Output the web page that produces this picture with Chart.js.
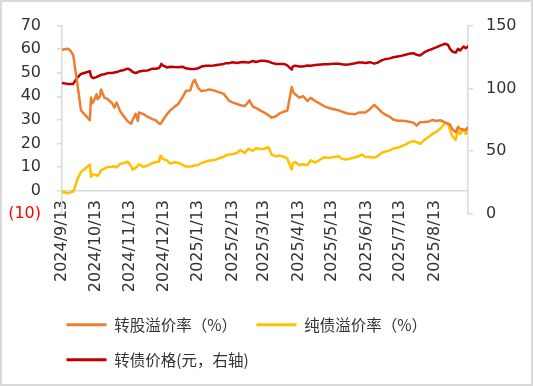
<!DOCTYPE html>
<html>
<head>
<meta charset="utf-8">
<script src="https://cdn.jsdelivr.net/npm/chart.js@4.4.1/dist/chart.umd.min.js"></script>
<style>
html,body{margin:0;padding:0;background:#fff;}
canvas{display:block;}
</style>
</head>
<body>
<canvas id="c" width="533" height="386"></canvas>
<script>
// ---- data ----
const dates = [
 '2024-09-13','2024-09-18','2024-09-20','2024-09-23','2024-09-24','2024-09-25','2024-09-26','2024-09-27','2024-09-30',
 '2024-10-08','2024-10-09','2024-10-10','2024-10-11','2024-10-14','2024-10-15','2024-10-17','2024-10-18','2024-10-21',
 '2024-10-24','2024-10-28','2024-10-30','2024-11-01','2024-11-04','2024-11-07','2024-11-11','2024-11-14','2024-11-15',
 '2024-11-18','2024-11-20','2024-11-21','2024-11-25','2024-11-29','2024-12-03','2024-12-06','2024-12-09','2024-12-10',
 '2024-12-11','2024-12-12','2024-12-16','2024-12-19','2024-12-23','2024-12-26','2024-12-30','2025-01-02','2025-01-06',
 '2025-01-08','2025-01-09','2025-01-10','2025-01-13','2025-01-16','2025-01-20','2025-01-23','2025-01-27','2025-02-05',
 '2025-02-07','2025-02-10','2025-02-13','2025-02-17','2025-02-20','2025-02-24','2025-02-25','2025-02-27','2025-02-28',
 '2025-03-03','2025-03-06','2025-03-10','2025-03-13','2025-03-17','2025-03-20','2025-03-24','2025-03-27','2025-03-31',
 '2025-04-03','2025-04-07','2025-04-08','2025-04-10','2025-04-14','2025-04-17','2025-04-21','2025-04-24','2025-04-28',
 '2025-05-06','2025-05-09','2025-05-12','2025-05-15','2025-05-19','2025-05-22','2025-05-26','2025-05-29','2025-06-03',
 '2025-06-06','2025-06-09','2025-06-12','2025-06-16','2025-06-20','2025-06-23','2025-06-27','2025-06-30','2025-07-04',
 '2025-07-07','2025-07-11','2025-07-14','2025-07-18','2025-07-21','2025-07-25','2025-07-28','2025-07-31','2025-08-04',
 '2025-08-08','2025-08-11','2025-08-15','2025-08-18','2025-08-21','2025-08-22','2025-08-25','2025-08-27','2025-08-29',
 '2025-09-01','2025-09-03','2025-09-05','2025-09-08','2025-09-10','2025-09-12'
];
// 转股溢价率（%） left axis
const convPremium = [
 59.7,60.2,59.7,57.5,54.5,51.0,48.0,44.5,34.0,
 29.8,39.5,37.0,37.5,40.8,38.7,40.0,42.9,39.4,
 38.8,37.0,35.2,37.3,33.8,31.7,29.3,28.3,29.6,
 32.5,29.6,33.1,32.4,31.2,30.3,29.8,28.5,28.2,
 28.6,29.5,32.3,34.0,35.6,36.6,39.5,42.2,42.5,
 45.5,46.5,47.0,43.6,42.2,42.5,42.9,42.5,41.0,
 39.8,38.0,37.4,36.7,36.2,35.9,36.4,37.5,38.3,
 35.7,35.0,33.9,33.2,32.0,30.9,31.5,32.7,33.5,
 33.8,43.9,42.0,40.8,39.4,40.1,38.0,39.3,38.0,
 35.8,35.2,34.8,34.5,34.0,33.5,32.8,32.6,32.4,
 33.1,33.1,33.1,34.5,36.3,35.0,33.1,32.2,31.2,
 30.1,29.6,29.6,29.5,29.2,28.8,27.5,29.0,29.1,
 29.3,29.9,29.5,29.8,29.2,29.0,28.3,27.9,26.0,
 24.7,27.0,26.1,25.8,25.7,26.8
];
// 纯债溢价率（%） left axis
const bondPremium = [
 -0.5,-1.2,-0.9,-0.5,0.5,2.0,3.5,5.0,7.8,
 11.0,5.8,6.5,6.9,6.4,6.2,7.5,8.6,9.3,
 10.0,10.1,10.3,9.8,11.2,11.6,12.2,10.3,8.9,
 9.5,10.5,11.1,10.0,10.6,11.6,12.1,12.2,14.5,
 14.6,13.5,12.8,11.4,12.0,11.8,10.9,10.2,10.2,
 10.3,10.5,10.6,10.8,11.6,12.3,12.7,12.8,14.3,
 15.0,15.3,15.5,15.9,17.2,15.8,16.5,17.7,17.5,
 16.8,17.9,17.6,17.6,18.4,15.2,14.5,14.8,14.3,
 13.5,8.9,11.5,12.1,10.7,11.1,10.7,12.8,11.8,
 14.1,13.9,14.0,14.2,14.5,13.5,13.1,13.5,14.1,
 14.5,15.3,14.2,14.2,13.9,14.6,16.1,16.5,17.0,
 17.8,18.1,18.7,19.5,20.3,21.0,20.5,19.8,21.5,
 22.8,24.0,25.0,26.2,27.8,28.5,28.6,25.4,23.0,
 21.5,25.4,24.0,26.1,24.0,25.7
];
// 转债价格(元，右轴) right axis
const cbPrice = [
 104.3,103.6,103.5,103.6,105.0,106.3,107.5,108.8,111.5,
 113.6,109.6,108.8,108.2,109.0,109.6,110.3,110.9,111.3,
 112.2,112.3,112.7,113.0,114.0,114.5,115.8,114.3,113.2,
 112.3,112.8,113.5,114.1,114.3,115.7,115.7,116.2,117.5,
 119.5,118.5,116.7,117.3,117.0,116.9,117.3,116.0,115.5,
 115.4,115.5,115.5,116.0,117.4,118.1,118.1,118.2,119.5,
 120.1,120.1,120.8,120.3,120.8,121.0,120.8,120.7,120.7,
 121.8,121.0,122.0,122.0,121.5,120.3,119.4,119.5,119.5,
 118.3,114.9,117.5,118.1,117.5,117.5,118.3,118.1,118.7,
 119.3,119.3,119.5,119.7,119.7,119.3,118.9,119.2,120.0,
 120.7,120.7,120.2,120.9,119.7,120.5,122.5,123.3,123.9,
 124.8,125.4,125.9,126.8,127.5,128.0,126.8,126.2,128.8,
 130.5,131.4,132.8,134.0,135.0,135.5,134.8,131.3,129.4,
 128.5,131.5,130.2,133.4,132.0,133.4
];
const tickLabels = ['2024/9/13','2024/10/13','2024/11/13','2024/12/13','2025/1/13','2025/2/13',
                    '2025/3/13','2025/4/13','2025/5/13','2025/6/13','2025/7/13','2025/8/13'];
const seriesNames = ['转股溢价率（%）','纯债溢价率（%）','转债价格(元，右轴)'];
const startDate = '2024-09-13';
const endDate = '2025-09-12';

// ---- date -> day index for the linear (date) axis ----
function dayIndex(s){
  const p = s.split(/[-\/]/).map(Number);
  const q = startDate.split('-').map(Number);
  return Math.round((Date.UTC(p[0],p[1]-1,p[2]) - Date.UTC(q[0],q[1]-1,q[2])) / 86400000);
}
const xs = dates.map(dayIndex);
const tickVals = tickLabels.map(dayIndex);
const toPts = arr => xs.map((x,i)=>({x:x, y:arr[i]}));

const AXIS_GRAY = '#d9d9d9';
const TXT = '#333333';
const numFont = {family:'DejaVu Sans', size:16};

const framePlugin = {
  id:'frame',
  beforeDraw(c){ const g=c.ctx; g.save(); g.fillStyle='#fff'; g.fillRect(0,0,c.width,c.height); g.restore(); },
  afterDraw(c){ const g=c.ctx; g.save(); g.strokeStyle=AXIS_GRAY; g.lineWidth=2; g.strokeRect(1,1,c.width-2,c.height-2); g.restore(); }
};
// indent the legend block like the reference (rows start under the plot)
const legendIndent = {
  id:'legendIndent',
  afterLayout(c){ if (c.legend) { c.legend.left = 47; } }
};

const lineDs = (i, arr, color, axis) => ({
  label: seriesNames[i], data: toPts(arr), borderColor: color, backgroundColor: color,
  borderWidth: 2.5, pointRadius: 0, tension: 0, yAxisID: axis, xAxisID: 'x',
  borderJoinStyle:'round', borderCapStyle:'round'
});

new Chart(document.getElementById('c'), {
  type: 'line',
  data: { datasets: [
    lineDs(0, convPremium, '#ED7D31', 'y'),
    lineDs(1, bondPremium, '#FFC000', 'y'),
    lineDs(2, cbPrice, '#C00000', 'y2')
  ]},
  plugins: [framePlugin, legendIndent],
  options: {
    responsive:false, animation:false, devicePixelRatio:1,
    layout:{ padding:{ left:0, right:0, top:24, bottom:8.5 } },
    plugins:{
      tooltip:{enabled:false},
      legend:{
        position:'bottom', align:'start',
        labels:{
          boxWidth:40, boxHeight:3, padding:19.5, color:TXT,
          font:{family:"'Noto Sans CJK SC'", size:15.5},
          generateLabels(chart){
            const items = Chart.defaults.plugins.legend.labels.generateLabels(chart);
            items.forEach(it=>{ it.lineWidth = 0; });
            return items;
          }
        }
      }
    },
    scales:{
      x:{
        type:'linear', bounds:'data', min:dayIndex(startDate), max:dayIndex(endDate),
        position:{ y: 0 },            // category axis crosses the left axis at 0
        grid:{display:false, drawTicks:false},
        border:{display:true, color:AXIS_GRAY, width:1.5},
        afterBuildTicks(s){ s.ticks = tickVals.map(v=>({value:v})); },
        ticks:{
          autoSkip:false, minRotation:90, maxRotation:90, padding:9.5, color:TXT, font:numFont,
          callback(v){ const i = tickVals.indexOf(v); return i>=0 ? tickLabels[i] : ''; }
        }
      },
      // reserves the room under the plot that the rotated date labels use
      xRoom:{
        type:'linear', axis:'x', position:'bottom', display:true,
        grid:{display:false, drawTicks:false}, border:{display:false}, ticks:{display:false},
        afterFit(s){ s.height = 83.5; }
      },
      y:{
        position:'left', min:-10, max:70,
        afterFit(s){ s.width = 62; },
        ticks:{
          stepSize:10, padding:16, font:numFont,
          color: c => (c.tick && c.tick.value < 0) ? '#FF0000' : TXT,
          callback: v => v < 0 ? '(' + Math.abs(v) + ')' : String(v)
        },
        grid:{ drawOnChartArea:false, tickLength:5, lineWidth:1.5, color:AXIS_GRAY, tickColor:AXIS_GRAY },
        border:{display:true, color:AXIS_GRAY, width:1.5}
      },
      y2:{
        position:'right', min:0, max:150,
        afterFit(s){ s.width = 65; },
        ticks:{ stepSize:50, padding:13, font:numFont, color:TXT },
        grid:{ drawOnChartArea:false, tickLength:5, lineWidth:1.5, color:AXIS_GRAY, tickColor:AXIS_GRAY },
        border:{display:true, color:AXIS_GRAY, width:1.5}
      }
    }
  }
});
</script>
</body>
</html>
